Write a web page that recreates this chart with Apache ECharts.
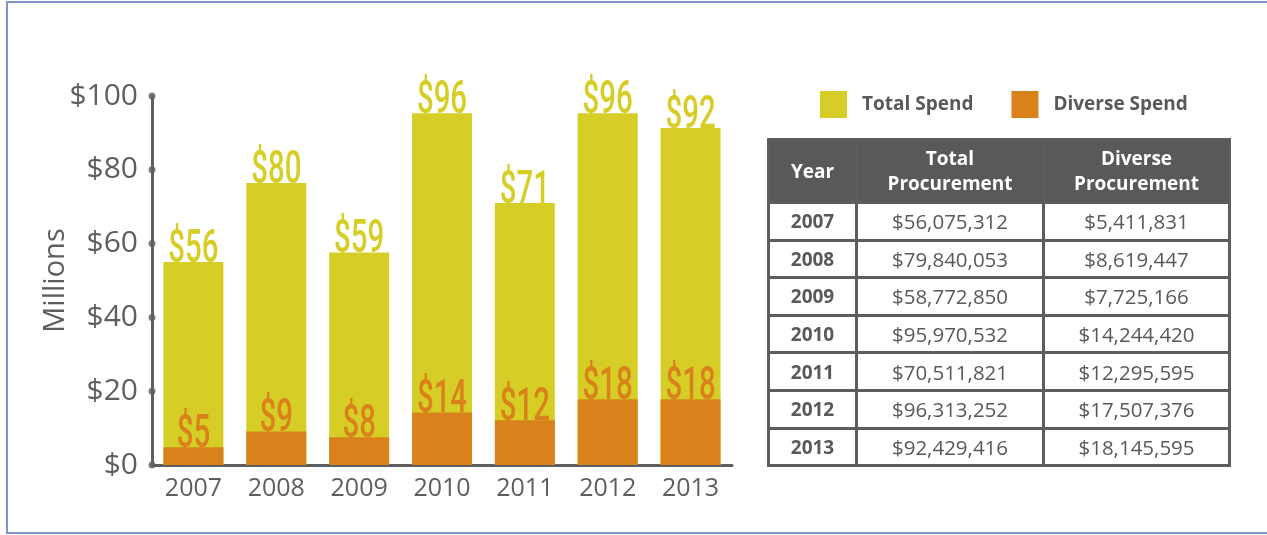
<!DOCTYPE html>
<html>
<head>
<meta charset="utf-8">
<script src="https://cdn.jsdelivr.net/npm/echarts@6/dist/echarts.min.js"></script>
<style>
html, body {
	margin: 0;
	padding: 0;
	background: #fff;
}
#frame {
	position: absolute;
	left: 6px;
	top: 1px;
	width: 1300px;
	height: 529px;
	border-top: 2px solid #8194cf;
	border-left: 2px solid #8194cf;
	border-bottom: 2px solid #8194cf;
}
#spend_chart {
	position: absolute;
	left: 0;
	top: 0;
	width: 1267px;
	height: 535px;
}
#spend_table {
	position: absolute;
	left: 767px;
	top: 138px;
	width: 461px;
	table-layout: fixed;
	border-collapse: collapse;
	font-family: 'Open Sans', sans-serif;
	font-size: 20.5px;
	color: #58595b;
	text-align: center;
}
#spend_table th {
	background: #58595b;
	color: #fff;
	font-weight: bold;
	font-size: 19px;
	line-height: 25px;
	height: 60px;
	padding: 0;
	border: 3px solid #5d5d5f;
}
#spend_table td {
	height: 34.6px;
	padding: 0;
	border: 3px solid #5d5d5f;
}
#spend_table td.year {
	font-weight: bold;
	font-size: 19px;
}
</style>
</head>
<body>
	<div id="frame"></div>
	<div id="spend_chart"></div>
	<table id="spend_table">
		<colgroup><col style="width:88px"><col style="width:187px"><col style="width:186px"></colgroup>
		<thead><tr><th>Year</th><th>Total<br>Procurement</th><th>Diverse<br>Procurement</th></tr></thead>
		<tbody id="spend_rows"></tbody>
	</table>
	<script type="text/javascript">
		var years = ['2007', '2008', '2009', '2010', '2011', '2012', '2013'];
		// table figures, in dollars
		var totalProcurement = [56075312, 79840053, 58772850, 95970532, 70511821, 96313252, 92429416];
		var diverseProcurement = [5411831, 8619447, 7725166, 14244420, 12295595, 17507376, 18145595];
		// bar heights as drawn, in millions
		var totalBars = [55.0, 76.4, 57.6, 95.3, 71.0, 95.3, 91.3];
		var diverseBars = [4.8, 9.1, 7.5, 14.2, 12.1, 17.8, 17.8];
		var yTicks = [0, 20, 40, 60, 80, 100];

		var colors = ['#d6ce26', '#d9821b'];
		var grey = '#5d5e60';

		function money(v) {
			return '$' + v.toLocaleString('en-US');
		}
		function millions(v) {
			return '$' + Math.round(v / 1e6);
		}

		// table rows
		var rows = '';
		for (var i = 0; i < years.length; i++) {
			rows += '<tr><td class="year">' + years[i] + '</td><td>' + money(totalProcurement[i]) +
				'</td><td>' + money(diverseProcurement[i]) + '</td></tr>';
		}
		document.getElementById('spend_rows').innerHTML = rows;

		var dom = document.getElementById('spend_chart');
		var myChart = echarts.init(dom);

		// squeezed value labels sitting on the bar tops
		function labelSeries(values, texts, color) {
			return {
				type: 'custom',
				silent: true,
				z: 5,
				data: values.map(function (v, i) { return [i, v]; }),
				renderItem: function (params, api) {
					var pt = api.coord([api.value(0), api.value(1)]);
					return {
						type: 'text',
						x: pt[0],
						y: pt[1] + 11,
						scaleX: 0.64,
						style: {
							text: texts[params.dataIndex],
							fill: color,
							font: '500 46px Roboto',
							align: 'center',
							verticalAlign: 'bottom'
						}
					};
				}
			};
		}

		var option = {
			animation: false,
			color: colors,
			legend: {
				left: 820,
				top: 91,
				padding: 0,
				icon: 'rect',
				itemWidth: 27,
				itemHeight: 27,
				itemGap: 38,
				data: ['Total Spend', 'Diverse Spend'],
				textStyle: {
					fontFamily: 'Open Sans',
					fontWeight: 'bold',
					fontSize: 19,
					color: '#58595b',
					padding: [0, 0, 0, 10]
				}
			},
			grid: {
				left: 152,
				top: 96,
				width: 580,
				height: 369
			},
			xAxis: [
				{
					type: 'category',
					data: years,
					axisLine: {lineStyle: {color: grey, width: 3}},
					axisTick: {show: false},
					axisLabel: {
						margin: 11,
						fontFamily: 'Open Sans',
						fontSize: 25,
						color: grey
					}
				},
				{
					type: 'value',
					min: 0,
					max: 1,
					show: false
				}
			],
			yAxis: {
				type: 'value',
				min: 0,
				max: 100,
				interval: 20,
				name: 'Millions',
				nameLocation: 'middle',
				nameGap: 82,
				nameMoveOverlap: false,
				nameTextStyle: {
					fontFamily: 'Open Sans',
					fontSize: 29,
					color: grey
				},
				axisLine: {show: true, lineStyle: {color: grey, width: 3}},
				axisTick: {show: false},
				splitLine: {show: false},
				axisLabel: {
					margin: 14,
					fontFamily: 'Open Sans',
					fontSize: 30,
					color: grey,
					formatter: '${value}'
				}
			},
			series: [
				{
					name: 'Total Spend',
					type: 'bar',
					barWidth: 60,
					barGap: '-100%',
					data: totalBars
				},
				{
					name: 'Diverse Spend',
					type: 'bar',
					barWidth: 60,
					barGap: '-100%',
					data: diverseBars
				},
				labelSeries(totalBars, totalProcurement.map(millions), colors[0]),
				labelSeries(diverseBars, diverseProcurement.map(millions), colors[1]),
				{
					// dots on the y axis
					type: 'scatter',
					xAxisIndex: 1,
					silent: true,
					symbolSize: 7,
					itemStyle: {color: grey},
					data: yTicks.map(function (t) { return [0, t]; })
				}
			]
		};
		myChart.setOption(option, true);
	</script>
</body>
</html>
